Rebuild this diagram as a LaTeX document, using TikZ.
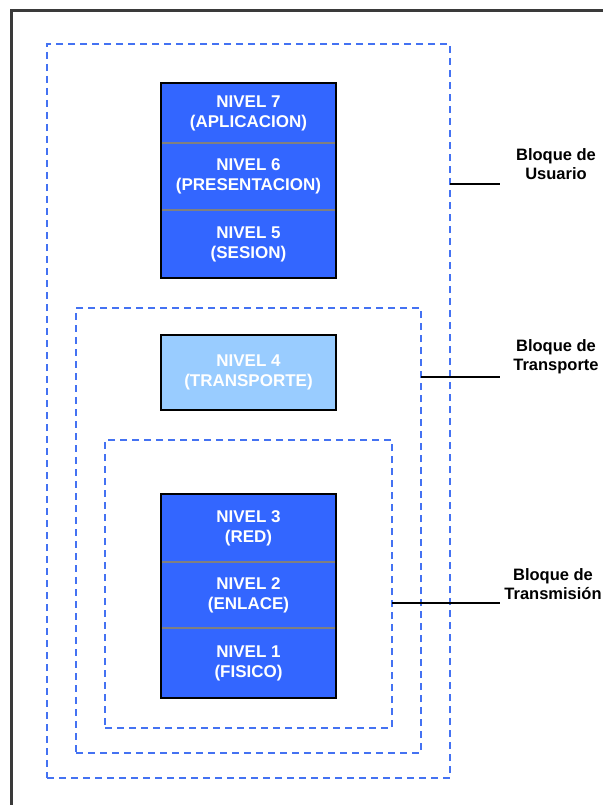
\documentclass[tikz,border=0pt]{standalone}
\usepackage{fontspec}
\setmainfont{Liberation Sans}
\definecolor{layerblue}{HTML}{3366FF}
\definecolor{layerlight}{HTML}{99CCFF}
\definecolor{blockdash}{HTML}{4472F2}
\definecolor{framegray}{HTML}{3A3A3A}
\begin{document}
\begin{tikzpicture}[x=1pt,y=-1pt,
  layer/.style={fill=layerblue, text=white, inner sep=0pt, outer sep=0pt,
    font=\fontsize{17}{20}\selectfont\bfseries, align=center,
    minimum width=175pt, anchor=north west},
  lightlayer/.style={layer, fill=layerlight},
  sepline/.style={draw=gray, line width=1.2pt},
  stackframe/.style={draw=black, line width=2.2pt},
  block/.style={draw=blockdash, line width=1.4pt, dash pattern=on 7pt off 5pt,
    inner sep=0pt, outer sep=0pt},
  blocklabel/.style={font=\fontsize{16.5}{19}\selectfont\bfseries, align=center, text=black},
  leader/.style={draw=black, line width=1.6pt}]
\useasboundingbox (0,0) rectangle (603,805);
\fill[white] (0,0) rectangle (603,805);

% page frame (left and top edges)
\draw[framegray, line width=3pt] (11,805) -- (11,11) -- (603,11);

% nested dashed blocks
\node[block, minimum width=403pt, minimum height=734pt] (usuario) at (248.5,411) {};
\node[block, minimum width=345pt, minimum height=445pt] (transporte) at (248.5,530.5) {};
\node[block, minimum width=287pt, minimum height=288pt] (transmision) at (248.5,584) {};

% upper layers
\node[layer, minimum height=60pt] (n7) at (161,83) {NIVEL 7\\(APLICACION)};
\node[layer, minimum height=67pt] (n6) at (n7.south west) {NIVEL 6\\(PRESENTACION)};
\node[layer, minimum height=68pt] (n5) at (n6.south west) {NIVEL 5\\(SESION)};
\draw[sepline] (n7.south west) -- (n7.south east);
\draw[sepline] (n6.south west) -- (n6.south east);
\draw[stackframe] (n7.north west) rectangle (n5.south east);

% transport layer
\node[lightlayer, minimum height=75pt] (n4) at (161,335) {NIVEL 4\\(TRANSPORTE)};
\draw[stackframe] (n4.north west) rectangle (n4.south east);

% lower layers
\node[layer, minimum height=68pt] (n3) at (161,494) {NIVEL 3\\(RED)};
\node[layer, minimum height=66pt] (n2) at (n3.south west) {NIVEL 2\\(ENLACE)};
\node[layer, minimum height=70pt] (n1) at (n2.south west) {NIVEL 1\\(FISICO)};
\draw[sepline] (n3.south west) -- (n3.south east);
\draw[sepline] (n2.south west) -- (n2.south east);
\draw[stackframe] (n3.north west) rectangle (n1.south east);

% block labels with leader lines
\node[blocklabel] (lu) at (556,164) {Bloque de\\Usuario};
\node[blocklabel] (lt) at (556,356.5) {Bloque de\\Transporte};
\node[blocklabel] (lx) at (553,584.5) {Bloque de\\Transmisión};
\coordinate (ue) at (500,184);
\coordinate (te) at (500,377);
\coordinate (xe) at (500,603);
\draw[leader] (usuario.east |- ue) -- (ue);
\draw[leader] (transporte.east |- te) -- (te);
\draw[leader] (transmision.east |- xe) -- (xe);
\end{tikzpicture}
\end{document}
